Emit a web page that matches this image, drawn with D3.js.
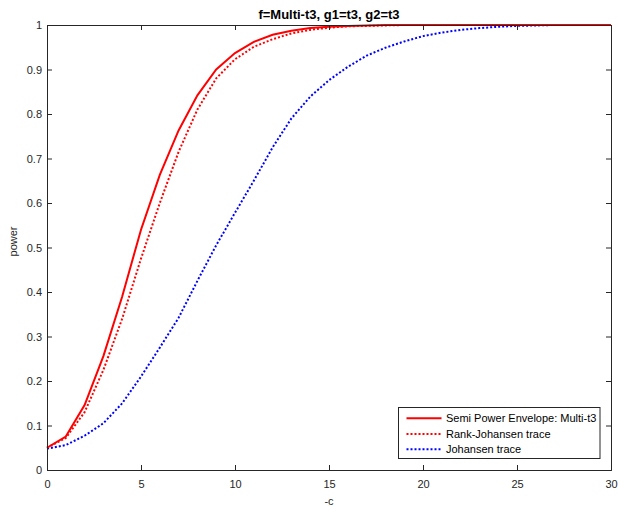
<!DOCTYPE html>
<html><head><meta charset="utf-8">
<script src="https://cdn.jsdelivr.net/npm/d3@7"></script>
<style>body{margin:0;background:#fff}svg{display:block;font-family:"Liberation Sans",Arial,sans-serif}</style>
</head><body>
<svg id="c" width="618" height="506"></svg>
<script>
const xValues = d3.range(0, 31);
const semiEnvelope = [0.05,0.075,0.146,0.256,0.39,0.54,0.663,0.763,0.842,0.9,0.937,0.962,0.978,0.987,0.993,0.996,0.998,0.999,1,1,1,1,1,1,1,1,1,1,1,1,1];
const rankJohansen = [0.05,0.072,0.13,0.225,0.34,0.475,0.6,0.715,0.81,0.88,0.923,0.951,0.968,0.981,0.989,0.994,0.997,0.998,0.999,1,1,1,1,1,1,1,1,1,1,1,1];
const johansen = [0.048,0.056,0.077,0.105,0.15,0.21,0.275,0.342,0.425,0.505,0.578,0.65,0.725,0.79,0.839,0.876,0.906,0.931,0.949,0.963,0.975,0.983,0.989,0.993,0.996,0.998,0.999,1,1,1,1];
const xTicks = [0,5,10,15,20,25,30];
const yTicks = [0,0.1,0.2,0.3,0.4,0.5,0.6,0.7,0.8,0.9,1];
const seriesNames = ["Semi Power Envelope: Multi-t3","Rank-Johansen trace","Johansen trace"];
const titleText = "f=Multi-t3, g1=t3, g2=t3";

const L=47, R=611, T=25, B=470;
const svg = d3.select("#c");
const x = d3.scaleLinear().domain([0,30]).range([L,R]);
const y = d3.scaleLinear().domain([0,1]).range([B,T]);
const axisColor = "#262626";

svg.append("rect").attr("x",L).attr("y",T).attr("width",R-L).attr("height",B-T).attr("fill","#fff");

const series = [
  {name:seriesNames[0], vals:semiEnvelope, color:"#ff0000", dash:null},
  {name:seriesNames[1], vals:rankJohansen, color:"#ff0000", dash:"2,2"},
  {name:seriesNames[2], vals:johansen, color:"#0000ff", dash:"2,2"}
];
const line = d3.line().x((d,i)=>x(xValues[i])).y(d=>y(d));
const plot = svg.append("g");
[2,1,0].forEach(k=>{
  const s = series[k];
  plot.append("path").attr("d", line(s.vals)).attr("fill","none")
    .attr("stroke", s.color).attr("stroke-width", 2)
    .attr("stroke-dasharray", s.dash);
});

// axes
const fmt = d => d3.format("")(+d.toFixed(1));
const gb = svg.append("g").attr("transform",`translate(0,${B})`)
  .call(d3.axisBottom(x).tickValues(xTicks).tickSize(-5).tickPadding(10).tickFormat(fmt));
const gt = svg.append("g").attr("transform",`translate(0,${T})`)
  .call(d3.axisTop(x).tickValues(xTicks).tickSize(-5).tickFormat(""));
const gl = svg.append("g").attr("transform",`translate(${L},0)`)
  .call(d3.axisLeft(y).tickValues(yTicks).tickSize(-5).tickPadding(10).tickFormat(fmt));
const gr = svg.append("g").attr("transform",`translate(${R},0)`)
  .call(d3.axisRight(y).tickValues(yTicks).tickSize(-5).tickFormat(""));
[gb,gt,gl,gr].forEach(g=>{
  g.select(".domain").attr("stroke",axisColor).attr("stroke-width",1);
  g.selectAll(".tick line").attr("stroke",axisColor).attr("stroke-width",1);
  g.selectAll(".tick text").attr("fill",axisColor).style("font-size","11px").style("font-family","'Liberation Sans',Arial,sans-serif");
});
gl.selectAll(".tick text").attr("x",-5);
gb.selectAll(".tick text").attr("dy",null).attr("y",18);

// title & labels
svg.append("text").attr("x",(L+R)/2).attr("y",18.5).attr("text-anchor","middle")
  .style("font-weight","bold").style("font-size","13px").attr("fill","#000").text(titleText);
svg.append("text").attr("x",(L+R)/2).attr("y",505).attr("text-anchor","middle")
  .style("font-size","11px").attr("fill",axisColor).text("-c");
svg.append("text").attr("transform",`translate(16.5,${(T+B)/2-6}) rotate(-90)`).attr("text-anchor","middle")
  .style("font-size","11px").attr("fill",axisColor).text("power");

// legend
const lg = svg.append("g");
lg.append("rect").attr("x",398.5).attr("y",407.5).attr("width",201.5).attr("height",51)
  .attr("fill","#fff").attr("stroke",axisColor).attr("stroke-width",1);
const rowsY = [418.3, 434, 449.3];
series.forEach((s,i)=>{
  lg.append("line").attr("x1",406.5).attr("x2",441.5).attr("y1",rowsY[i]).attr("y2",rowsY[i])
    .attr("stroke",s.color).attr("stroke-width",2).attr("stroke-dasharray",s.dash);
  lg.append("text").attr("x",446).attr("y",rowsY[i]).attr("dy","0.35em")
    .style("font-size","11px").attr("fill","#000").text(s.name);
});
</script>
</body></html>
